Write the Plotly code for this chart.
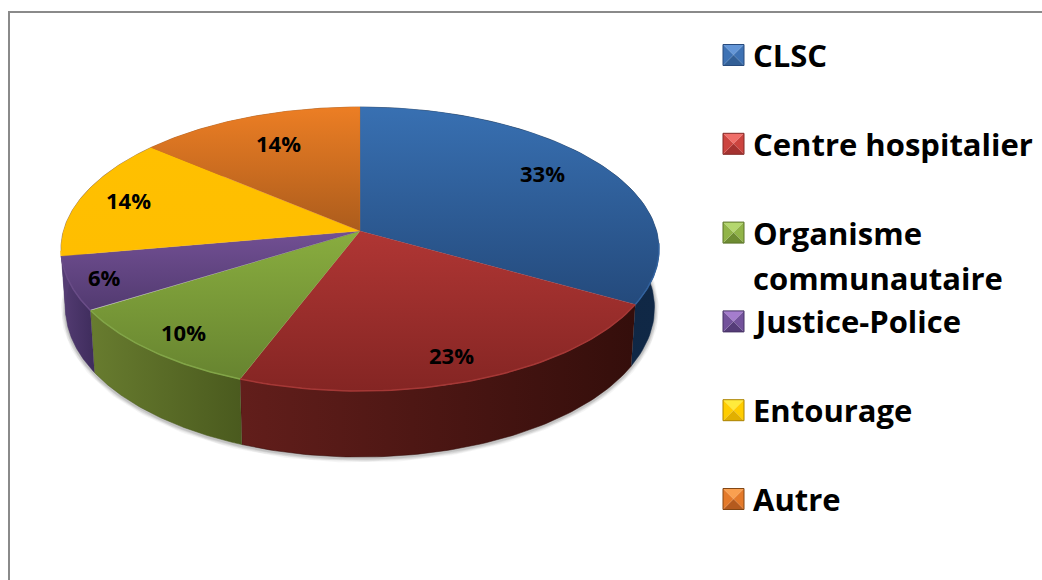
import math
import numpy as np
import plotly.graph_objects as go

# ---- data ----
categories = ["CLSC", "Centre hospitalier", "Organisme communautaire", "Justice-Police", "Entourage", "Autre"]
values = [33.2, 22.6, 10.3, 6.1, 14.0, 13.8]
legend_lines = [["CLSC"], ["Centre hospitalier"], ["Organisme", "communautaire"], ["Justice-Police"], ["Entourage"], ["Autre"]]

# ---- styles ----
TOP_COLORS = [("rgb(56,112,178)", "rgb(36,74,124)"), ("rgb(176,54,52)", "rgb(132,37,35)"),
              ("rgb(137,173,63)", "rgb(103,132,48)"), ("rgb(114,80,148)", "rgb(82,58,112)"),
              ("rgb(255,192,0)", "rgb(255,190,0)"), ("rgb(236,126,36)", "rgb(172,92,28)")]
RIM_COLORS = [("rgb(14,36,62)", "rgb(16,40,70)"), ("rgb(98,30,27)", "rgb(52,14,11)"),
              ("rgb(104,124,47)", "rgb(74,90,30)"), ("rgb(84,60,115)", "rgb(62,44,92)"),
              ("rgb(84,60,115)", "rgb(84,60,115)"), ("rgb(150,80,20)", "rgb(150,80,20)")]
EDGE_COLORS = ["rgb(50,98,158)", "rgb(165,56,54)", "rgb(130,165,72)", "rgb(105,76,135)", "rgb(255,195,20)", "rgb(215,115,36)"]
SWATCH = [("rgb(100,150,215)", "rgb(62,114,180)", "rgb(50,95,150)", "rgb(40,75,125)"),
          ("rgb(240,110,105)", "rgb(204,68,63)", "rgb(165,50,48)", "rgb(130,40,38)"),
          ("rgb(180,215,110)", "rgb(145,180,72)", "rgb(110,140,50)", "rgb(90,115,40)"),
          ("rgb(165,125,205)", "rgb(115,82,155)", "rgb(85,60,120)", "rgb(70,50,100)"),
          ("rgb(255,235,60)", "rgb(255,205,0)", "rgb(225,175,0)", "rgb(170,130,0)"),
          ("rgb(250,160,80)", "rgb(228,122,42)", "rgb(180,90,30)", "rgb(130,70,20)")]
LABEL_R = [0.785, 0.845, 0.86, 0.885, 0.835, 0.75]
LABEL_SHIFT = [-1.1, 0.2, 0, 0, 0.2, 0.4]
FONT = "Open Sans"

# ---- perspective disc ----
CX, APEX_Y = 360.0, 231.0
A, B, C = 296.6, 110.4, 0.1268
ELL_Y = 249.0


def top_xy(theta, r=1.0):
    u, v = r * np.sin(theta), -r * np.cos(theta)
    w = 1 - C * v
    return CX + A * u / w, (APEX_Y + B * v) / w


def bottom_xy(theta):
    x, y = top_xy(theta)
    return CX + (x - CX) * 0.985, ELL_Y + (y - ELL_Y) * 1.05 + 59


total = sum(values)
fracs = np.cumsum([0] + values) / total
fig = go.Figure()

# soft shadow under the rim
front = np.linspace(math.radians(80), math.radians(275), 240)
sx, sy = bottom_xy(front)
for wdt, alpha in [(9, 0.05), (7, 0.07), (5, 0.09), (3, 0.12)]:
    fig.add_trace(go.Scatter(x=sx, y=sy + 1, mode="lines", line=dict(color=f"rgba(60,60,60,{alpha})", width=wdt),
                             hoverinfo="skip", showlegend=False))

# rim pieces
for i, name in enumerate(categories):
    t = np.linspace(fracs[i], fracs[i + 1], 80) * 2 * math.pi
    xt, yt = top_xy(t)
    xb, yb = bottom_xy(t)
    fig.add_trace(go.Scatter(x=np.r_[xt, xb[::-1]], y=np.r_[yt, yb[::-1]], mode="lines", fill="toself",
                             line=dict(width=0.5, color=RIM_COLORS[i][1]),
                             fillgradient=dict(type="horizontal", colorscale=[[0, RIM_COLORS[i][0]], [1, RIM_COLORS[i][1]]]),
                             hoverinfo="skip", showlegend=False))

# top faces
for i, name in enumerate(categories):
    t = np.linspace(fracs[i], fracs[i + 1], 100) * 2 * math.pi
    xt, yt = top_xy(t)
    fig.add_trace(go.Scatter(x=np.r_[CX, xt, CX], y=np.r_[APEX_Y, yt, APEX_Y], mode="lines", fill="toself", name=name,
                             line=dict(width=0.3, color=EDGE_COLORS[i]),
                             fillgradient=dict(type="vertical", colorscale=[[0, TOP_COLORS[i][1]], [1, TOP_COLORS[i][0]]]),
                             hoverinfo="name", showlegend=False))

# bevel highlight on the front edge
for i, name in enumerate(categories):
    lo, hi = fracs[i] * 2 * math.pi, fracs[i + 1] * 2 * math.pi
    lo, hi = max(lo, math.radians(95)), min(hi, math.radians(262))
    if hi > lo:
        xt, yt = top_xy(np.linspace(lo, hi, 60))
        fig.add_trace(go.Scatter(x=xt, y=yt, mode="lines", line=dict(color=EDGE_COLORS[i], width=1.5),
                                 hoverinfo="skip", showlegend=False))

# percent labels
for i, v in enumerate(values):
    mid = (fracs[i] + fracs[i + 1]) / 2 + LABEL_SHIFT[i] / 100
    lx, ly = top_xy(mid * 2 * math.pi, LABEL_R[i])
    fig.add_annotation(x=float(lx), y=float(ly), text=f"<b>{round(100 * v / total)}%</b>", showarrow=False,
                       font=dict(family=FONT, size=22, color="black"))

# legend
LX, LY0, LSTEP, HALF = 733.5, 55.0, 88.8, 10.5
for i, lines in enumerate(legend_lines):
    cy = LY0 + i * LSTEP
    corners = [(LX - HALF, cy - HALF), (LX + HALF, cy - HALF), (LX + HALF, cy + HALF), (LX - HALF, cy + HALF)]
    light, mid, dark, border = SWATCH[i]
    for k, col in enumerate([light, mid, dark, mid]):
        a, b = corners[k], corners[(k + 1) % 4]
        fig.add_trace(go.Scatter(x=[a[0], b[0], LX, a[0]], y=[a[1], b[1], cy, a[1]], mode="lines", fill="toself",
                                 fillcolor=col, line=dict(width=0, color=col), hoverinfo="skip", showlegend=False))
    fig.add_trace(go.Scatter(x=[c[0] for c in corners + corners[:1]], y=[c[1] for c in corners + corners[:1]], mode="lines",
                             line=dict(width=1, color=border), hoverinfo="skip", showlegend=False))
    for j, line in enumerate(lines):
        fig.add_annotation(x=LX + 17.5, y=cy + j * 45, text=f"<b>{line}</b>", showarrow=False, xanchor="left",
                           font=dict(family=FONT, size=31, color="black"))

fig.add_shape(type="rect", x0=9, y0=12, x1=1100, y1=640, line=dict(color="#8a8a8a", width=2), layer="below")

fig.update_layout(width=1042, height=580, margin=dict(l=0, r=0, t=0, b=0), paper_bgcolor="white", plot_bgcolor="white",
                  showlegend=False,
                  xaxis=dict(range=[0, 1042], visible=False, fixedrange=True),
                  yaxis=dict(range=[580, 0], visible=False, fixedrange=True))
fig.write_html("out.html", config=dict(displayModeBar=False), post_script="document.body.style.margin='0';")
